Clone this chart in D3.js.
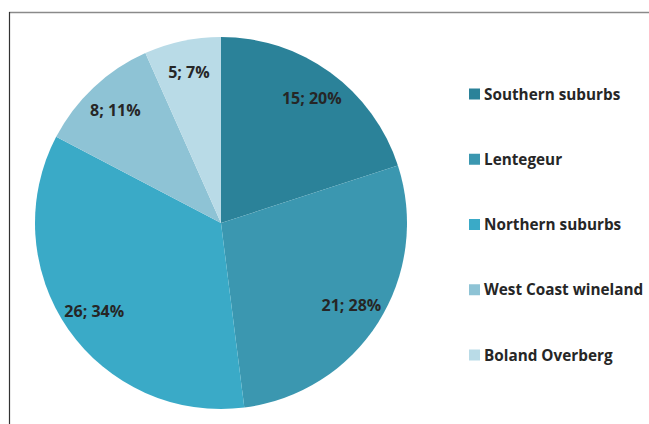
<!DOCTYPE html>
<html><head><meta charset="utf-8">
<script src="https://cdn.jsdelivr.net/npm/d3@7"></script>
<style>body{margin:0;background:#fff}svg{display:block}</style>
</head><body>
<script>
const categories = ["Southern suburbs","Lentegeur","Northern suburbs","West Coast wineland","Boland Overberg"];
const values = [15,21,26,8,5];
const percentLabels = ["20%","28%","34%","11%","7%"];
const colors = ["#2b8299","#3b97b0","#3aaac7","#8ec3d5","#b9dbe7"];

const W=649,H=424;
const svg=d3.select("body").append("svg").attr("width",W).attr("height",H);
svg.append("rect").attr("width",W).attr("height",H).attr("fill","#fff");
// frame
svg.append("line").attr("x1",9).attr("x2",W).attr("y1",12.5).attr("y2",12.5).attr("stroke","#8a8a8a").attr("stroke-width",1.5);
svg.append("line").attr("x1",9.5).attr("x2",9.5).attr("y1",12).attr("y2",H).attr("stroke","#333").attr("stroke-width",1.2);

const cx=221, cy=223, R=186;
const data=categories.map((c,i)=>({cat:c,v:values[i],p:percentLabels[i],col:colors[i]}));
const pie=d3.pie().value(d=>d.v).sort(null);
const arc=d3.arc().innerRadius(0).outerRadius(R);
const labelArc=d3.arc().innerRadius(R*0.83).outerRadius(R*0.83);
const g=svg.append("g").attr("transform",`translate(${cx},${cy})`);
const arcs=pie(data);
g.selectAll("path").data(arcs).join("path").attr("d",arc).attr("fill",d=>d.data.col);
g.selectAll("text").data(arcs).join("text")
  .attr("transform",d=>`translate(${labelArc.centroid(d)})`)
  .attr("text-anchor","middle").attr("dy","0.35em")
  .attr("font-family","'Open Sans', sans-serif").attr("font-weight","bold").attr("font-size",16)
  .attr("fill","#262626")
  .text(d=>`${d.data.v}; ${d.data.p}`);

// legend
const ly=d3.scalePoint().domain(categories).range([94,355]);
const lg=svg.append("g").selectAll("g").data(data).join("g")
  .attr("transform",d=>`translate(469,${ly(d.cat)})`);
lg.append("rect").attr("x",0).attr("y",-5.5).attr("width",11).attr("height",11).attr("fill",d=>d.col);
lg.append("text").attr("x",15).attr("dy","0.36em")
  .attr("font-family","'Open Sans', sans-serif").attr("font-weight","bold").attr("font-size",15.3)
  .attr("fill","#262626").text(d=>d.cat);
</script>
</body></html>
